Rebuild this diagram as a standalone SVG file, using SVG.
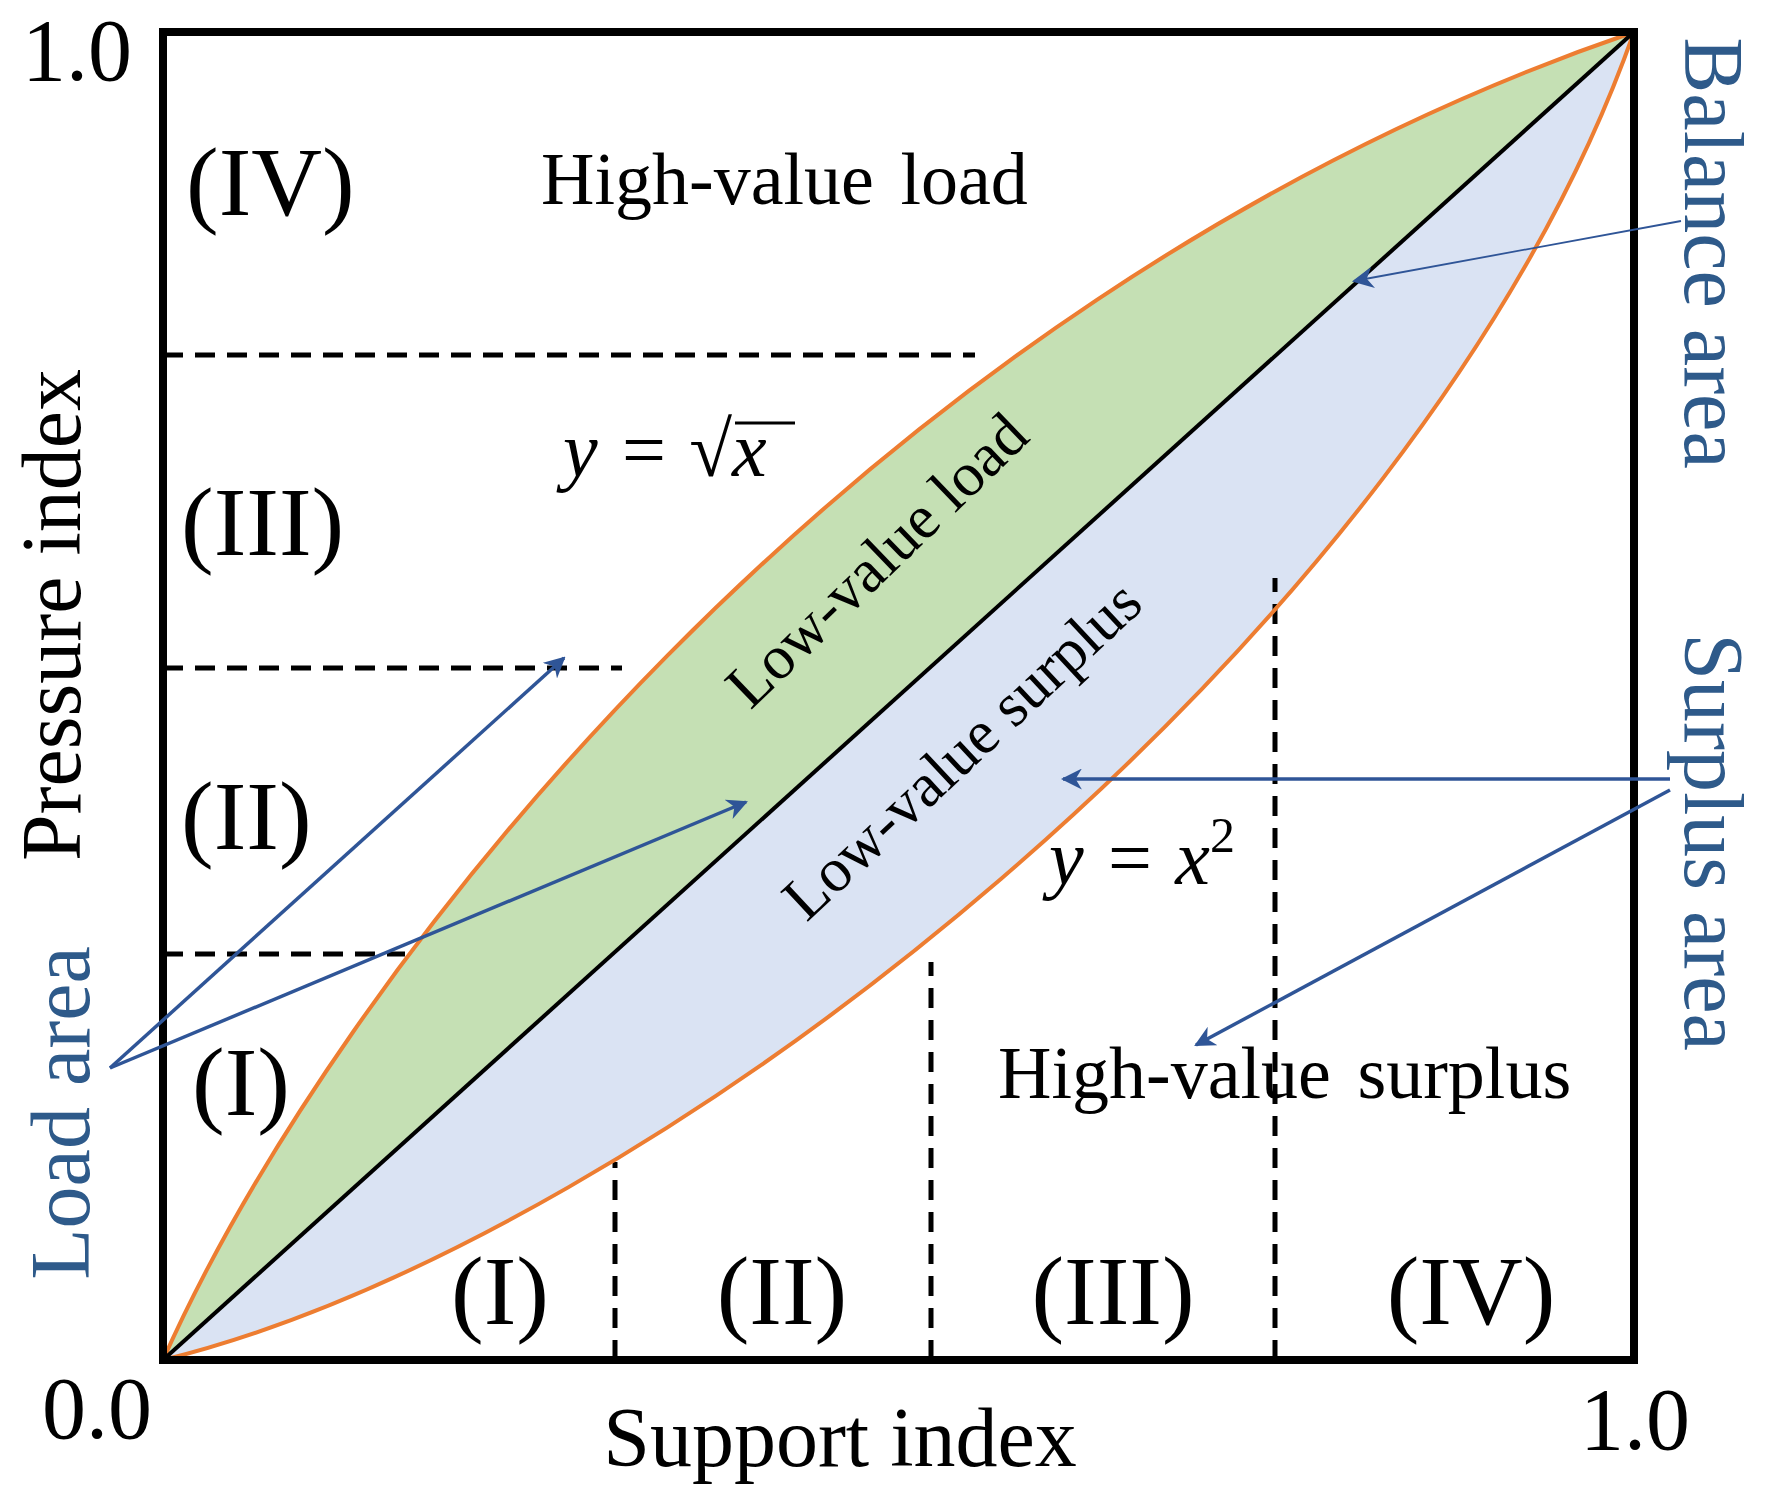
<svg xmlns="http://www.w3.org/2000/svg" width="1770" height="1507" viewBox="0 0 1770 1507">
<defs>
<style>
text{font-family:"Liberation Serif","Times New Roman",serif;fill:#000}
.big{font-size:84px}
.num{font-size:88px}
.reg{font-size:98px}
.lab{font-size:74px;word-spacing:8px}
.blue{fill:#2e5a8a}
.dash{stroke:#000;stroke-width:5;stroke-dasharray:20 12;fill:none}
.arr{stroke:#2f5597;stroke-width:3.5;fill:none;marker-end:url(#ah)}
.curve{stroke:#ed7d31;stroke-width:4;fill:none}
</style>
<marker id="ah" viewBox="0 0 10 10" refX="9" refY="5" markerWidth="6" markerHeight="6" markerUnits="strokeWidth" orient="auto"><path d="M0,0L10,5L0,10L3,5z" fill="#2f5597"/></marker>
<marker id="ah2" viewBox="0 0 10 10" refX="9" refY="5" markerWidth="12" markerHeight="12" markerUnits="strokeWidth" orient="auto"><path d="M0,0L10,5L0,10L3,5z" fill="#2f5597"/></marker>
</defs>
<g id="fills">
<path d="M163,1360 C330,985 850,300 1634,32 Z" fill="#c5e0b4"/>
<path d="M163,1360 C650,1240 1420,640 1634,32 Z" fill="#dae3f3"/>
</g>
<g id="dashes">
<line class="dash" x1="163" y1="954" x2="405" y2="954"/>
<line class="dash" x1="163" y1="668" x2="622" y2="668"/>
<line class="dash" x1="163" y1="355" x2="975" y2="355"/>
<line class="dash" x1="615" y1="1360" x2="615" y2="1162"/>
<line class="dash" x1="931" y1="1360" x2="931" y2="962"/>
<line class="dash" x1="1275" y1="1360" x2="1275" y2="578"/>
</g>
<g id="curves">
<path class="curve" d="M163,1360 C330,985 850,300 1634,32"/>
<path class="curve" d="M163,1360 C650,1240 1420,640 1634,32"/>
<line x1="163" y1="1360" x2="1634" y2="32" stroke="#000" stroke-width="4"/>
</g>
<rect id="frame" x="163" y="32" width="1471" height="1328" fill="none" stroke="#000" stroke-width="8"/>
<g id="axis-labels">
<text class="num" x="22" y="80">1.0</text>
<text class="num" x="42" y="1438">0.0</text>
<text class="num" x="1580" y="1449">1.0</text>
<text class="big" x="840" y="1466" text-anchor="middle">Support index</text>
<text class="big" transform="translate(80,615) rotate(-90)" text-anchor="middle">Pressure index</text>
</g>
<g id="regions">
<text class="reg" x="186" y="215">(IV)</text>
<text class="reg" x="181" y="555">(III)</text>
<text class="reg" x="181" y="849">(II)</text>
<text class="reg" x="192" y="1115">(I)</text>
<text class="reg" x="500" y="1324" text-anchor="middle">(I)</text>
<text class="reg" x="782" y="1324" text-anchor="middle">(II)</text>
<text class="reg" x="1113" y="1324" text-anchor="middle">(III)</text>
<text class="reg" x="1471" y="1324" text-anchor="middle">(IV)</text>
</g>
<g id="area-labels">
<text class="lab" x="541" y="204">High-value load</text>
<text class="lab" x="998" y="1098">High-value surplus</text>
<text font-size="78" x="563" y="476" font-style="italic">y = √x</text>
<line x1="735" y1="423" x2="795" y2="423" stroke="#000" stroke-width="3"/>
<text font-size="78" x="1049" y="884" font-style="italic">y = x<tspan font-style="normal" font-size="50" dy="-32">2</tspan></text>
<text font-size="62" transform="translate(891,575) rotate(-44)" text-anchor="middle">Low-value load</text>
<text font-size="62" transform="translate(976,765) rotate(-43)" text-anchor="middle">Low-value surplus</text>
</g>
<g id="side-labels">
<text class="big blue" font-size="86" transform="translate(89,1113) rotate(-90)" text-anchor="middle">Load area</text>
<text class="big blue" font-size="86" transform="translate(1685,253) rotate(90)" text-anchor="middle">Balance area</text>
<text class="big blue" font-size="86" transform="translate(1685,842) rotate(90)" text-anchor="middle">Surplus area</text>
</g>
<g id="connectors">
<line class="arr" x1="110" y1="1068" x2="564" y2="658"/>
<line class="arr" x1="110" y1="1068" x2="746" y2="802"/>
<line stroke="#2f5597" stroke-width="1.8" marker-end="url(#ah2)" x1="1681" y1="221" x2="1354" y2="281"/>
<line class="arr" x1="1670" y1="779" x2="1063" y2="779"/>
<line class="arr" x1="1670" y1="790" x2="1196" y2="1045"/>
</g>
</svg>
